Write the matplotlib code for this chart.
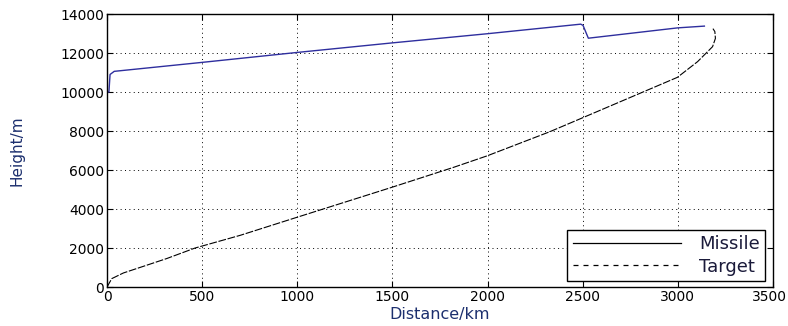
import matplotlib.pyplot as plt
from matplotlib.lines import Line2D
from matplotlib.transforms import ScaledTranslation

# 数据: 导弹 / 目标 的 距离-高度 轨迹
missile_x = [0, 10, 16, 38, 500, 1000, 1500, 2000, 2490, 2502, 2530, 3000, 3140]
missile_y = [10000, 10000, 10900, 11060, 11520, 12030, 12520, 12990, 13480, 13420, 12760, 13290, 13380]

target_x = [0, 25, 86, 191, 314, 463, 700, 1000, 1493, 1821, 1998, 2326, 2493, 2998, 3104, 3183, 3198, 3195, 3185]
target_y = [0, 430, 720, 1060, 1460, 2000, 2650, 3580, 5100, 6135, 6726, 7958, 8650, 10752, 11555, 12325, 12750, 13100, 13250]

x_ticks = [0, 500, 1000, 1500, 2000, 2500, 3000, 3500]
y_ticks = [0, 2000, 4000, 6000, 8000, 10000, 12000, 14000]
legend_labels = ['Missile', 'Target']

label_color = '#1c2f6e'

fig = plt.figure(figsize=(7.88, 3.26), dpi=100)
ax = fig.add_axes([0.1358, 0.1196, 0.845, 0.8374])

# 画线
ax.plot(missile_x, missile_y, color='#2e2e9e', lw=1.0)
ax.plot(target_x, target_y, color='black', lw=0.8, linestyle=(0, (7, 1.5)))

ax.set_xlim(0, 3500)
ax.set_ylim(0, 14000)
ax.set_xticks(x_ticks)
ax.set_yticks(y_ticks)
ax.tick_params(direction='in', top=True, right=True, length=4, labelsize=10, pad=2)
ax.grid(True, color='black', linestyle=(0, (1, 3.5)), linewidth=0.7)

# 最右边的刻度标签挪一点, 免得被裁掉
last = ax.get_xticklabels()[-1]
last.set_horizontalalignment('right')
last.set_transform(last.get_transform() + ScaledTranslation(0.145, 0, fig.dpi_scale_trans))

for s in ax.spines.values():
    s.set_linewidth(1.0)

ax.set_xlabel('Distance/km', fontsize=11.5, color=label_color, labelpad=2)
ax.set_ylabel('Height/m', fontsize=11, color=label_color, labelpad=26)

# 图例 (黑色线型)
handles = [Line2D([], [], color='black', lw=0.9),
           Line2D([], [], color='black', lw=0.9, linestyle=(0, (4, 4)))]
leg = ax.legend(handles, legend_labels, loc='lower right', bbox_to_anchor=(0.9887, 0.022),
                fontsize=13, handlelength=6.0, handletextpad=1.0, borderpad=0.3,
                labelspacing=0.25, fancybox=False, framealpha=1, edgecolor='black',
                borderaxespad=0)
leg.get_frame().set_linewidth(1.0)
for t in leg.get_texts():
    t.set_color('#1a1a3a')

fig.savefig('out.png', dpi=100)
